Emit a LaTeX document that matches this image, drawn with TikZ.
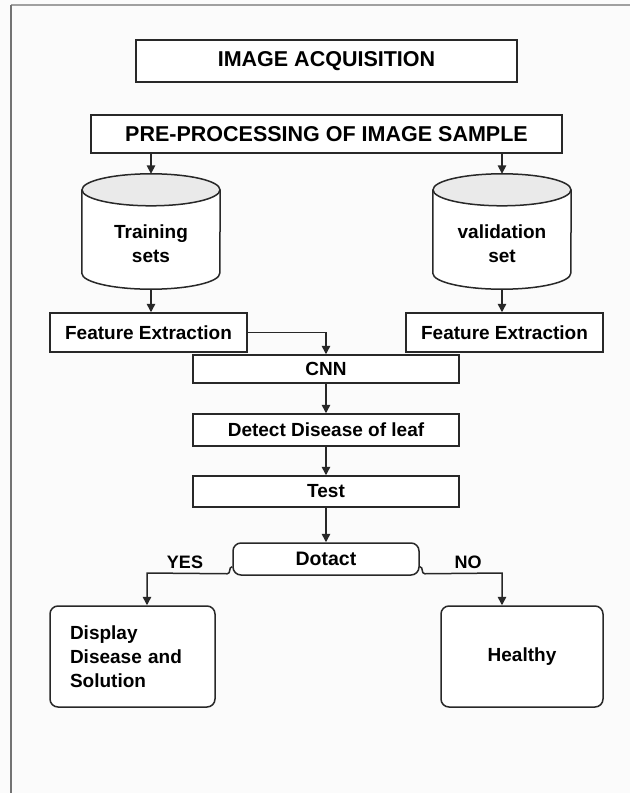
\documentclass[tikz,border=0pt]{standalone}
\usepackage{fontspec}
\setmainfont{Liberation Sans}
\usepackage{xcolor}
\usetikzlibrary{arrows.meta, positioning, calc}
\definecolor{framegray}{RGB}{160,160,160}
\definecolor{edgegray}{RGB}{115,115,115}
\definecolor{inkdark}{RGB}{40,40,40}
\definecolor{capgray}{RGB}{234,234,234}
\definecolor{pagewhite}{RGB}{251,251,251}

\begin{document}
\begin{tikzpicture}[
  x=1pt, y=-1pt,
  font=\fontsize{19}{24}\selectfont\bfseries,
  box/.style={rectangle, draw=inkdark, line width=1.5pt, fill=white, inner sep=0pt},
  rbox/.style={box, rounded corners=8pt},
  headbox/.style={box, font=\fontsize{21.5}{26}\selectfont\bfseries},
  store/.style={rectangle, minimum width=138pt, minimum height=115pt, inner sep=0pt},
  storeline/.style={draw=inkdark, line width=1.5pt},
  flow/.style={draw=inkdark, line width=1.5pt, -{Triangle[length=8.5pt, width=8.5pt]}},
  answer/.style={font=\fontsize{18}{22}\selectfont\bfseries}
]
  \fill[pagewhite] (0,0) rectangle (630,793);
  \useasboundingbox (0,0) rectangle (630,793);
  \draw[framegray, line width=1.5pt] (11,5) -- (630,5);
  \draw[edgegray, line width=2pt] (11,5) -- (11,793);

  \node[headbox, minimum width=381pt, minimum height=42pt] (acq) at (326.5,61) {IMAGE ACQUISITION};
  \node[headbox, minimum width=471pt, minimum height=38pt] (pre) at (326.5,134) {PRE-PROCESSING OF IMAGE SAMPLE};

  \foreach \nm/\x/\lab in {train/151/{Training\\sets}, valid/502/{validation\\set}} {
    \node[store] (\nm) at (\x,231.5) {};
    \draw[storeline, fill=white] ([yshift=-16pt]\nm.north west) -- ([yshift=16pt]\nm.south west)
      arc[start angle=180, end angle=360, x radius=69pt, y radius=16pt] -- ([yshift=-16pt]\nm.north east);
    \draw[storeline, fill=capgray] ([yshift=-16pt]\nm.north) ellipse[x radius=69pt, y radius=16pt];
    \node[align=center] (\nm lbl) at (\x,244) {\lab};
    \draw[flow] (pre.south -| \nm.north) -- (\nm.north);
  }
  \node[box, minimum width=197pt, minimum height=39pt] (feat1) at (148.5,332.5) {Feature Extraction};
  \node[box, minimum width=197pt, minimum height=39pt] (feat2) at (504.5,332.5) {Feature Extraction};
  \draw[flow] (train.south) -- (train.south |- feat1.north);
  \draw[flow] (valid.south) -- (valid.south |- feat2.north);

  \node[box, minimum width=266pt, minimum height=28pt] (cnn) at (326,369) {CNN};
  \node[box, minimum width=266pt, minimum height=32pt] (detect) at (326,430) {Detect Disease of leaf};
  \node[box, minimum width=266pt, minimum height=31pt] (test) at (326,491.5) {Test};
  \node[rbox, minimum width=186pt, minimum height=32pt, font=\fontsize{19.5}{24}\selectfont\bfseries] (dotact) at (326,559) {Dotact};
  \draw[flow] (feat1.east) -- (cnn.north |- feat1.east) -- (cnn.north);
  \foreach \a/\b in {cnn/detect, detect/test, test/dotact} {
    \draw[flow] (\a.south) -- (\b.north);
  }

  \node[rbox, minimum width=165pt, minimum height=101pt, text width=125pt, inner xsep=20pt, align=left] (disp) at (132.5,656.5) {Display\\Disease and\\Solution};
  \node[rbox, minimum width=162pt, minimum height=101pt] (healthy) at (522,656.5) {Healthy};

  \node[answer] (yes) at (185,562) {YES};
  \node[answer] (no) at (468,562) {NO};
  \coordinate (yesturn) at (147,573);
  \coordinate (noturn) at (502,573);
  \draw[flow] ([yshift=9pt]dotact.south west) .. controls +(-4,0) and +(4,0) .. +(-5,7) -- (yesturn) -- (yesturn |- disp.north);
  \draw[flow] ([yshift=9pt]dotact.south east) .. controls +(4,0) and +(-4,0) .. +(5,7) -- (noturn) -- (noturn |- healthy.north);
\end{tikzpicture}
\end{document}
